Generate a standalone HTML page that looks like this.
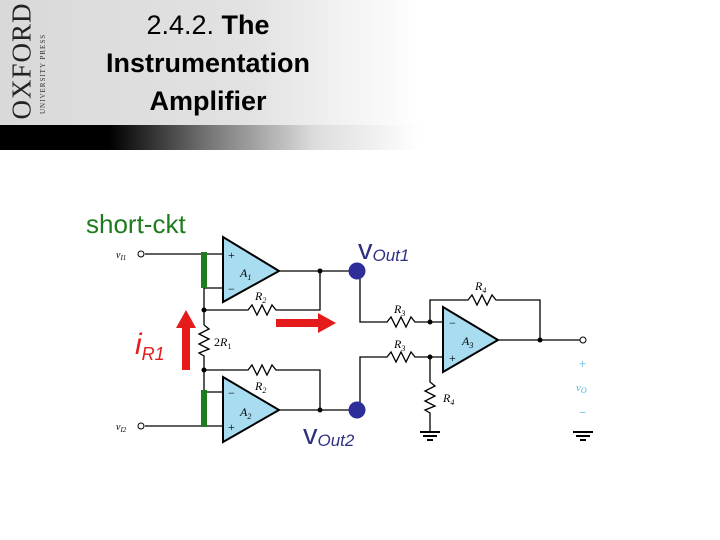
<!DOCTYPE html>
<html><head><meta charset="utf-8"><style>
body{margin:0;width:720px;height:540px;background:#fff;overflow:hidden;position:relative;font-family:"Liberation Sans",sans-serif}
.hdr{position:absolute;left:0;top:0;width:420px;height:125px;background:linear-gradient(to right,#d9d9d9 0%,#e2e2e2 60%,#fff 100%)}
.band{position:absolute;left:0;top:125px;width:420px;height:25px;background:linear-gradient(to right,#000 0%,#000 26%,#777 50%,#ddd 75%,#fff 100%)}
.title{position:absolute;left:60px;width:296px;top:6px;text-align:center;font-size:27px;line-height:38px;color:#000}
.ox{position:absolute;left:-38px;top:44px;transform:rotate(-90deg);font-family:"Liberation Serif",serif;font-size:27px;letter-spacing:1px;color:#222;width:120px}
.ox2{position:absolute;left:-17px;top:50px;transform:rotate(-90deg);font-family:"Liberation Serif",serif;font-size:7px;letter-spacing:1px;color:#333;width:120px}
</style></head><body>
<div class="hdr"></div><div class="band"></div>
<div class="ox">OXFORD</div>
<div class="ox2">UNIVERSITY PRESS</div>
<div class="title">2.4.2. <b>The<br>Instrumentation<br>Amplifier</b></div>
<svg width="720" height="540" style="position:absolute;left:0;top:0" font-family="Liberation Serif,serif">
<g stroke="#000" stroke-width="1.3" fill="none">
<line x1="145" y1="254" x2="223" y2="254"/>
<line x1="145" y1="426" x2="223" y2="426"/>
<line x1="204" y1="288" x2="223" y2="288"/>
<line x1="204" y1="392" x2="223" y2="392"/>
<line x1="204" y1="288" x2="204" y2="325"/>
<polyline points="204,325 209,329 199,334 209,339 199,344 209,349 199,353 204,356 204,392"/>
<polyline points="204,310 248,310 252,305 257,315 262,305 267,315 272,305 276,310 320,310 320,271"/>
<polyline points="204,370 248,370 252,365 257,375 262,365 267,375 272,365 276,370 320,370 320,410"/>
<line x1="279" y1="271" x2="357" y2="271"/>
<line x1="279" y1="410" x2="357" y2="410"/>
<polyline points="360,271 360,322 387,322 391,317 396,327 401,317 406,327 411,317 415,322 443,322"/>
<polyline points="360,410 360,357 387,357 391,352 396,362 401,352 406,362 411,352 415,357 443,357"/>
<polyline points="430,322 430,300 468,300 472,295 477,305 482,295 487,305 492,295 496,300 540,300 540,340"/>
<line x1="498" y1="340" x2="580" y2="340"/>
<polyline points="430,357 430,382 435,386 425,391 435,396 425,401 435,406 425,410 430,413 430,432"/>
</g>
<g stroke="#000" stroke-width="2">
<line x1="420" y1="432" x2="440" y2="432"/><line x1="423" y1="436" x2="437" y2="436"/><line x1="427" y1="440" x2="433" y2="440"/>
<line x1="573" y1="432" x2="593" y2="432"/><line x1="576" y1="436" x2="590" y2="436"/><line x1="580" y1="440" x2="586" y2="440"/>
</g>
<g fill="#fff" stroke="#000" stroke-width="1">
<circle cx="141" cy="254" r="3"/><circle cx="141" cy="426" r="3"/><circle cx="583" cy="340" r="3"/>
</g>
<g fill="#a8dcf0" stroke="#000" stroke-width="2">
<polygon points="223,237 223,302 279,271"/>
<polygon points="223,377 223,442 279,410"/>
<polygon points="443,307 443,372 498,340"/>
</g>
<g fill="#000">
<circle cx="204" cy="310" r="2.5"/><circle cx="204" cy="370" r="2.5"/>
<circle cx="320" cy="271" r="2.5"/><circle cx="320" cy="410" r="2.5"/>
<circle cx="430" cy="322" r="2.5"/><circle cx="430" cy="357" r="2.5"/><circle cx="540" cy="340" r="2.5"/>
</g>
<g fill="#000" font-size="12">
<text x="228" y="259">+</text><text x="228" y="293">−</text>
<text x="228" y="397">−</text><text x="228" y="431">+</text>
<text x="449" y="327">−</text><text x="449" y="362">+</text>
<text x="240" y="277" font-style="italic">A<tspan font-size="8" dy="3">1</tspan></text>
<text x="240" y="416" font-style="italic">A<tspan font-size="8" dy="3">2</tspan></text>
<text x="462" y="345" font-style="italic">A<tspan font-size="8" dy="3">3</tspan></text>
<text x="255" y="300" font-style="italic">R<tspan font-size="8" dy="3">2</tspan></text>
<text x="255" y="390" font-style="italic">R<tspan font-size="8" dy="3">2</tspan></text>
<text x="214" y="346">2<tspan font-style="italic">R</tspan><tspan font-size="8" dy="3">1</tspan></text>
<text x="394" y="313" font-style="italic">R<tspan font-size="8" dy="3">3</tspan></text>
<text x="394" y="348" font-style="italic">R<tspan font-size="8" dy="3">3</tspan></text>
<text x="475" y="290" font-style="italic">R<tspan font-size="8" dy="3">4</tspan></text>
<text x="443" y="402" font-style="italic">R<tspan font-size="8" dy="3">4</tspan></text>
<text x="116" y="258" font-size="10" font-style="italic">v<tspan font-size="7" dy="2">I1</tspan></text>
<text x="116" y="430" font-size="10" font-style="italic">v<tspan font-size="7" dy="2">I2</tspan></text>
</g>
<g fill="#4fb3d9" font-size="13">
<text x="579" y="368">+</text>
<text x="576" y="391" font-style="italic" font-size="11">v<tspan font-size="8" dy="2">O</tspan></text>
<text x="579" y="417">−</text>
</g>
<rect x="201" y="252" width="6" height="36" fill="#1e7b1e"/>
<rect x="201" y="390" width="6" height="37" fill="#1e7b1e"/>
<circle cx="357" cy="271" r="8.5" fill="#2e2e9a"/>
<circle cx="357" cy="410" r="8.5" fill="#2e2e9a"/>
<g fill="#e51b1b">
<rect x="182" y="326" width="8" height="44"/><polygon points="176,328 196,328 186,310"/>
<rect x="276" y="319" width="44" height="8"/><polygon points="318,313 318,333 336,323"/>
</g>
<g font-family="Liberation Sans,sans-serif">
<text x="86" y="233" font-size="26" fill="#1e7b1e">short-ckt</text>
<text x="358" y="259" font-size="29" fill="#2e3182">v<tspan font-size="17" font-style="italic" dy="2">Out1</tspan></text>
<text x="303" y="444" font-size="29" fill="#2e3182">v<tspan font-size="17" font-style="italic" dy="2">Out2</tspan></text>
<text x="135" y="354" font-size="30" font-style="italic" fill="#e51b1b">i<tspan font-size="18" dy="6">R1</tspan></text>
</g>
</svg>
</body></html>
